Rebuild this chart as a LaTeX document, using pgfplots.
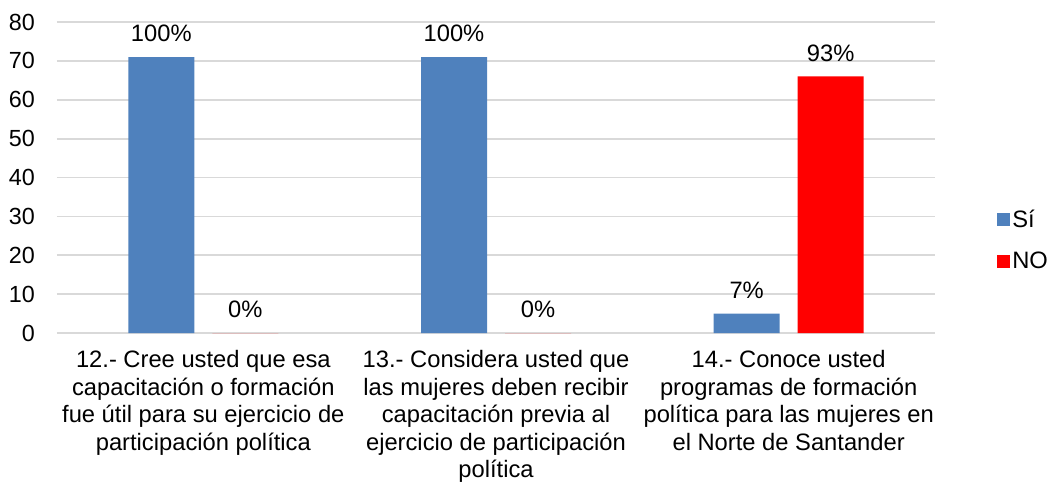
\documentclass[border=0pt]{standalone}
\usepackage{pgfplots}
\pgfplotsset{compat=1.18}
\usepackage{fontspec}
\setmainfont{Liberation Sans}
\definecolor{siblue}{RGB}{79,129,189}
\definecolor{nored}{RGB}{255,0,0}
\definecolor{gridgray}{RGB}{217,217,217}
\begin{document}
\begin{tikzpicture}[x=1pt,y=1pt]
\useasboundingbox (0,0) rectangle (787.5,362.25);
\begin{axis}[
  at={(42.75pt,112.5pt)}, anchor=south west,
  scale only axis, width=658.5pt, height=233.25pt,
  xmin=-0.5, xmax=2.5, ymin=0, ymax=80,
  ytick={0,10,...,80},
  xtick={0,1,2},
  xticklabels={{12.- Cree usted que esa\\capacitación o formación\\fue útil para su ejercicio de\\participación política},
               {13.- Considera usted que\\las mujeres deben recibir\\capacitación previa al\\ejercicio de participación\\política},
               {14.- Conoce usted\\programas de formación\\política para las mujeres en\\el Norte de Santander}},
  xticklabel style={align=center, font=\fontsize{17.8}{20.6}\selectfont, anchor=north, inner sep=0pt, yshift=-13pt},
  yticklabel style={font=\fontsize{17.5}{20.7}\selectfont, anchor=east, inner sep=0pt, xshift=-16.5pt},
  /pgf/number format/assume math mode=true,
  axis line style={draw=none},
  major tick length=0pt,
  ymajorgrids, grid style={gridgray, line width=1.3pt},
  ybar=13.5pt, bar width=49.5pt,
  point meta=explicit symbolic,
  nodes near coords,
  nodes near coords style={font=\fontsize{17.8}{20.7}\selectfont, anchor=south, inner sep=0pt, yshift=11pt, text=black},
  legend style={at={(1,0.299)}, anchor=west, xshift=46.5pt, draw=none, fill=none, inner sep=0pt,
    font=\fontsize{17.8}{20.7}\selectfont, row sep=14pt, nodes={inner sep=1.5pt}},
  legend cell align=left,
  legend image code/.code={\fill[#1] (0pt,-4.9pt) rectangle (9.75pt,4.9pt);},
]
\addplot[fill=siblue, draw=none] coordinates {(0,71) [100\%] (1,71) [100\%] (2,5) [7\%]};
\addplot[fill=nored, draw=none] coordinates {(0,0) [0\%] (1,0) [0\%] (2,66) [93\%]};
\legend{Sí,NO}
\end{axis}
\end{tikzpicture}
\end{document}
